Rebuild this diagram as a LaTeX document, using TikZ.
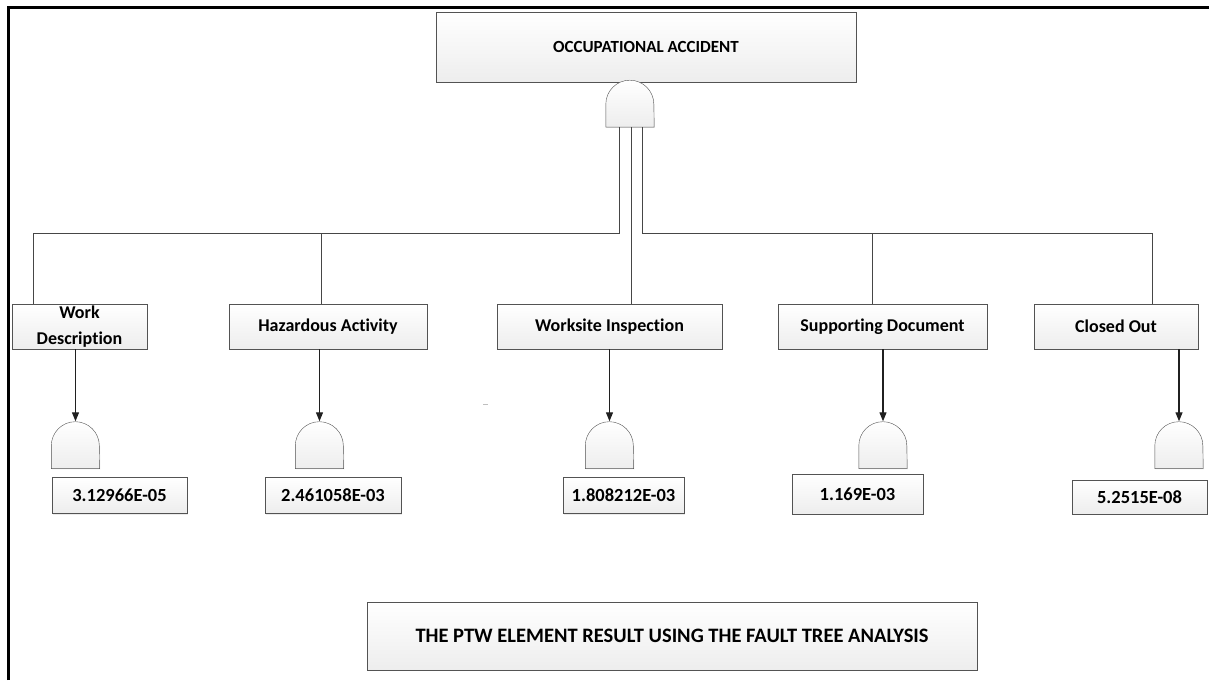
\documentclass[tikz,border=0pt]{standalone}
\usepackage{fontspec}
\setmainfont{Carlito}[Ligatures=NoCommon]
\usetikzlibrary{arrows.meta,shadows}

\tikzset{
  evbox/.style={draw=gray!65!black, top color=white, bottom color=gray!14,
    drop shadow={shadow xshift=1.2pt, shadow yshift=-1.2pt, fill=gray!40, opacity=.4},
    inner sep=0pt, align=center, font=\bfseries\fontsize{18}{21}\selectfont},
  valbox/.style={evbox, minimum height=36pt, font=\bfseries\fontsize{18.5}{21}\selectfont},
  gate/.style={minimum width=48pt, minimum height=47pt, inner sep=0pt},
  wire/.style={draw=gray!55!black, line width=0.8pt},
  arrow/.style={draw=gray!25!black, line width=1.2pt, -{Triangle[width=7pt,length=9pt]}}
}

\begin{document}
\begin{tikzpicture}[x=1pt, y=1pt]
    \useasboundingbox (0,0) rectangle (1209,680);

    % Cornice
    \draw[line width=3pt] (8.7,0) -- (8.7,672.5) -- (1209,672.5);

    % Evento di testa
    \node[evbox, minimum width=420pt, minimum height=70pt, font=\bfseries\fontsize{17}{20}\selectfont] (top) at (646,633) {OCCUPATIONAL ACCIDENT};
    \node[gate] (g0) at (630,576.5) {};

    % Elementi PTW
    \node[evbox, minimum width=135pt, minimum height=45pt, font=\bfseries\fontsize{18}{26}\selectfont] (wd) at (79.5,353.5) {Work\\Description};
    \node[evbox, minimum width=198pt, minimum height=45pt] (ha) at (328,353.5) {Hazardous Activity};
    \node[evbox, minimum width=225pt, minimum height=45pt] (wi) at (609.5,353.5) {Worksite Inspection};
    \node[evbox, minimum width=209pt, minimum height=45pt] (sd) at (882.5,353.5) {Supporting Document};
    \node[evbox, minimum width=164pt, minimum height=45pt] (co) at (1116,353.5) {Closed Out};

    % Porte
    \node[gate] (g1) at (75.5,235) {};
    \node[gate] (g2) at (319.5,235) {};
    \node[gate] (g3) at (609.5,235) {};
    \node[gate] (g4) at (883,235) {};
    \node[gate] (g5) at (1179,235) {};

    % Valori
    \node[valbox, minimum width=135pt] (v1) at (119.5,184.5) {3.12966E-05};
    \node[valbox, minimum width=136pt] (v2) at (333,184.5) {2.461058E-03};
    \node[valbox, minimum width=121pt] (v3) at (623.5,184.5) {1.808212E-03};
    \node[valbox, minimum width=131pt, minimum height=40pt] (v4) at (857.5,186) {1.169E-03};
    \node[valbox, minimum width=135pt, minimum height=34pt] (v5) at (1139.5,183) {5.2515E-08};

    % Risultato
    \node[evbox, minimum width=610pt, minimum height=68pt, font=\bfseries\fontsize{20.5}{24}\selectfont] (res) at (672,44) {THE PTW ELEMENT RESULT USING THE FAULT TREE ANALYSIS};

    % Forma delle porte
    \foreach \g in {g0,g1,g2,g3,g4,g5} {
        \shadedraw[top color=white, bottom color=gray!14, draw=gray!65!black,
            drop shadow={shadow xshift=0.8pt, shadow yshift=-0.8pt, fill=gray!40, opacity=.3}]
            (\g.south west) -- ([yshift=23pt]\g.south west)
            arc[start angle=180, end angle=0, radius=24pt] -- (\g.south east) -- cycle;
    }

    % Collegamenti
    \coordinate (busL) at (619,447);
    \coordinate (busR) at (642,447);
    \draw[wire] ([xshift=-11pt]g0.south) -- (busL) -| ([xshift=-46.5pt]wd.north);
    \draw[wire] (busL) -| ([xshift=-7pt]ha.north);
    \draw[wire] ([xshift=1pt]g0.south) -- ([xshift=21.5pt]wi.north);
    \draw[wire] ([xshift=12pt]g0.south) -- (busR) -| ([xshift=-10.5pt]sd.north);
    \draw[wire] (busR) -| ([xshift=36pt]co.north);

    % Frecce
    \foreach \b/\g in {wd/g1, ha/g2, wi/g3, sd/g4, co/g5}
        \draw[arrow] (\b.south -| \g.north) -- (\g.north);

    % Segnetto
    \draw[gray!50, line width=0.8pt] (483,276) -- (488,276);

\end{tikzpicture}
\end{document}
